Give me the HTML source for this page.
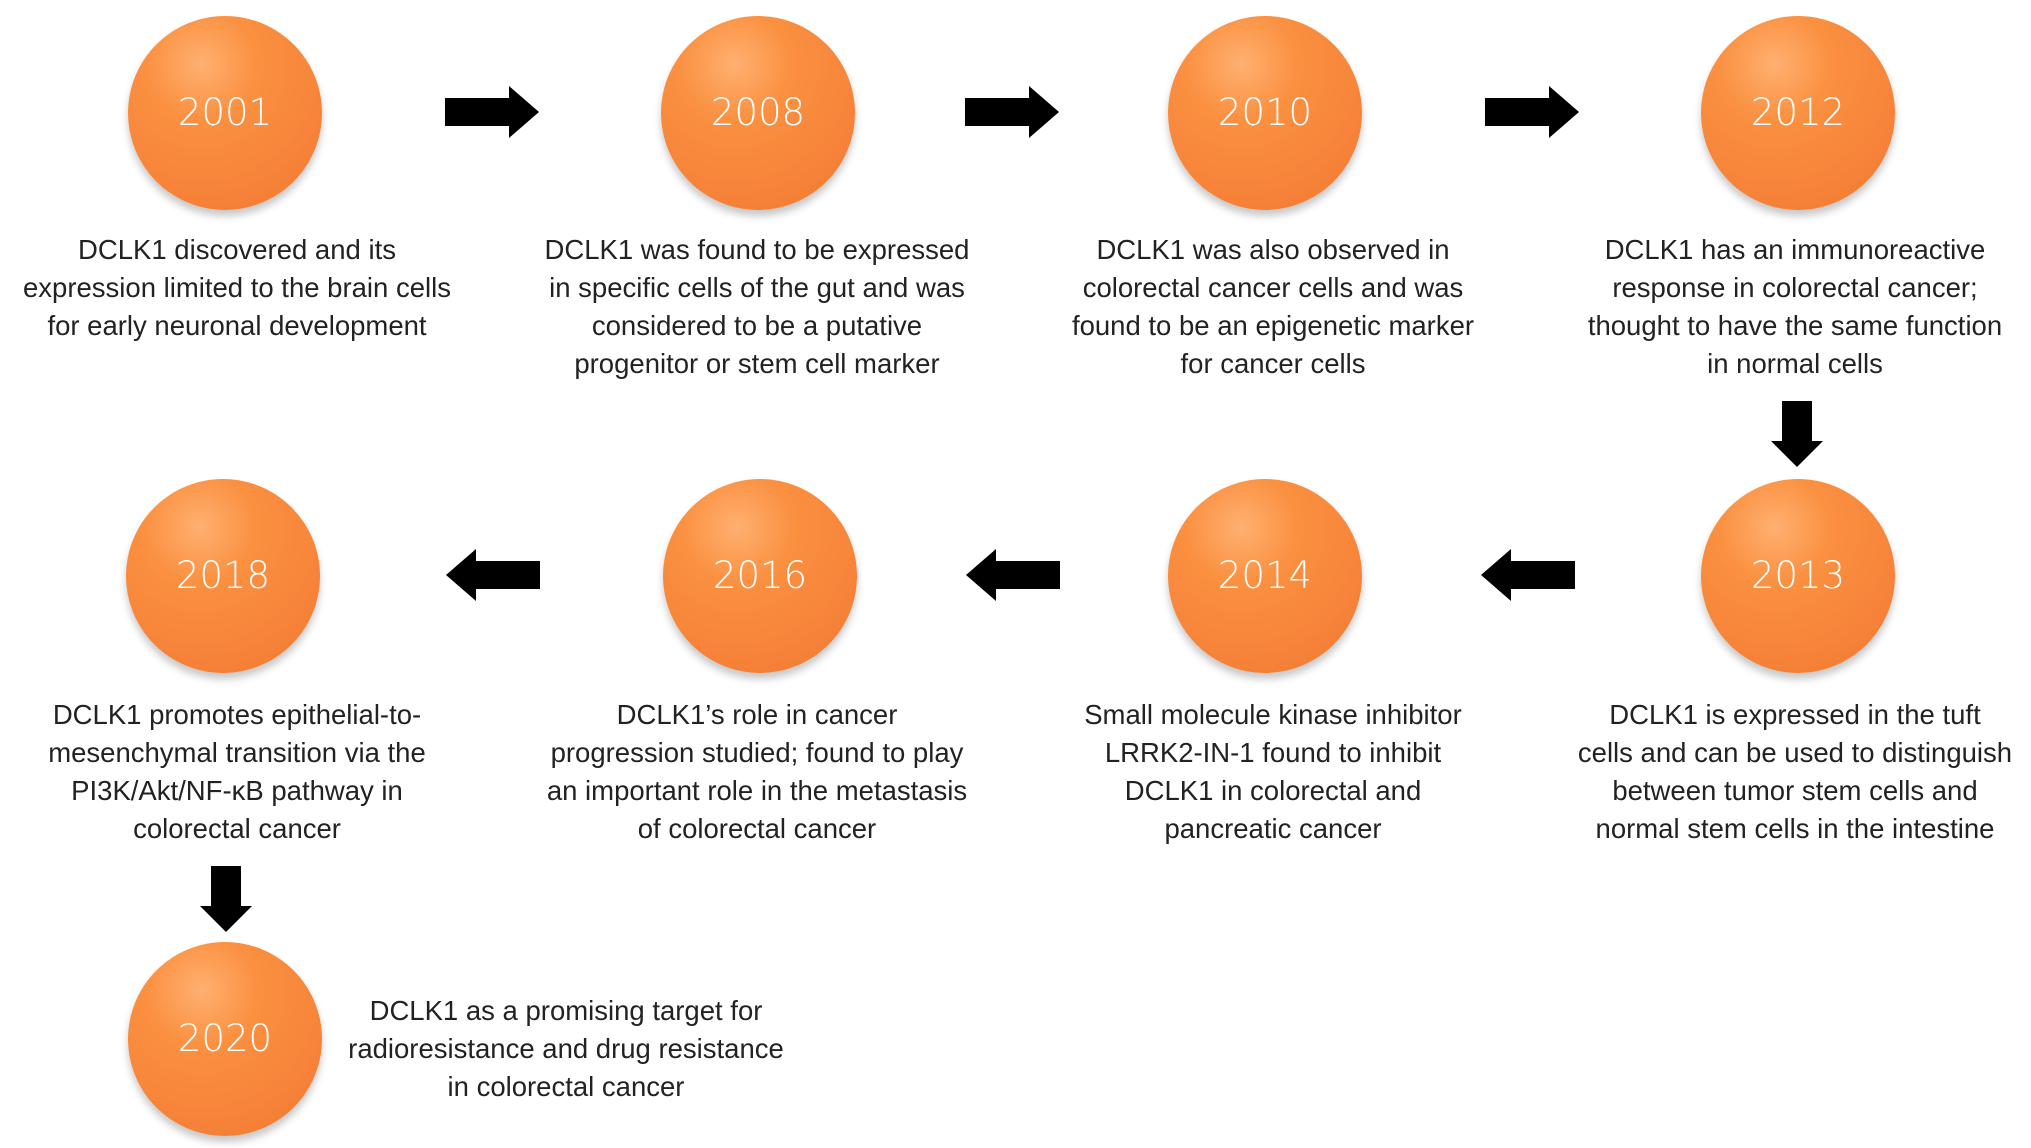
<!DOCTYPE html>
<html><head><meta charset="utf-8"><style>
html,body{margin:0;padding:0;background:#fff;}
body{width:2031px;height:1148px;position:relative;overflow:hidden;font-family:"Liberation Sans",Arial,sans-serif;}
.c{position:absolute;width:194px;height:194px;border-radius:50%;
background:radial-gradient(circle at 38% 25%,#ffb070 0%,#fa9040 30%,#f7843a 65%,#ee7a30 100%);
box-shadow:0 6px 8px rgba(0,0,0,0.22);color:#fff;font-size:37px;text-align:center;line-height:194px;font-family:"DejaVu Sans","Liberation Sans",sans-serif;font-weight:300;}
.t{position:absolute;width:520px;font-size:27.5px;line-height:38px;text-align:center;color:#222;}
svg{position:absolute;left:0;top:0;}
</style></head><body>
<div class="c" style="left:128px;top:16px">2001</div>
<div class="c" style="left:661px;top:16px">2008</div>
<div class="c" style="left:1168px;top:16px">2010</div>
<div class="c" style="left:1701px;top:16px">2012</div>
<div class="c" style="left:1701px;top:479px">2013</div>
<div class="c" style="left:1168px;top:479px">2014</div>
<div class="c" style="left:663px;top:479px">2016</div>
<div class="c" style="left:126px;top:479px">2018</div>
<div class="c" style="left:128px;top:942px">2020</div>

<div class="t" style="left:-23px;top:231px">DCLK1 discovered and its<br>expression limited to the brain cells<br>for early neuronal development</div>
<div class="t" style="left:497px;top:231px">DCLK1 was found to be expressed<br>in specific cells of the gut and was<br>considered to be a putative<br>progenitor or stem cell marker</div>
<div class="t" style="left:1013px;top:231px">DCLK1 was also observed in<br>colorectal cancer cells and was<br>found to be an epigenetic marker<br>for cancer cells</div>
<div class="t" style="left:1535px;top:231px">DCLK1 has an immunoreactive<br>response in colorectal cancer;<br>thought to have the same function<br>in normal cells</div>
<div class="t" style="left:-23px;top:696px">DCLK1 promotes epithelial-to-<br>mesenchymal transition via the<br>PI3K/Akt/NF-κB pathway in<br>colorectal cancer</div>
<div class="t" style="left:497px;top:696px">DCLK1’s role in cancer<br>progression studied; found to play<br>an important role in the metastasis<br>of colorectal cancer</div>
<div class="t" style="left:1013px;top:696px">Small molecule kinase inhibitor<br>LRRK2-IN-1 found to inhibit<br>DCLK1 in colorectal and<br>pancreatic cancer</div>
<div class="t" style="left:1535px;top:696px">DCLK1 is expressed in the tuft<br>cells and can be used to distinguish<br>between tumor stem cells and<br>normal stem cells in the intestine</div>
<div class="t" style="left:306px;top:992px">DCLK1 as a promising target for<br>radioresistance and drug resistance<br>in colorectal cancer</div>

<svg width="2031" height="1148">
<defs>
<g id="r"><polygon points="0,-14 64,-14 64,-26 94,0 64,26 64,14 0,14" fill="#000"/></g>
<g id="d"><polygon points="-15,0 15,0 15,40 26,40 0,66 -26,40 -15,40" fill="#000"/></g>
</defs>
<use href="#r" x="445" y="112"/>
<use href="#r" x="965" y="112"/>
<use href="#r" x="1485" y="112"/>
<use href="#r" transform="translate(540,575) scale(-1,1)"/>
<use href="#r" transform="translate(1060,575) scale(-1,1)"/>
<use href="#r" transform="translate(1575,575) scale(-1,1)"/>
<use href="#d" x="1797" y="401"/>
<use href="#d" x="226" y="866"/>
</svg>
</body></html>
